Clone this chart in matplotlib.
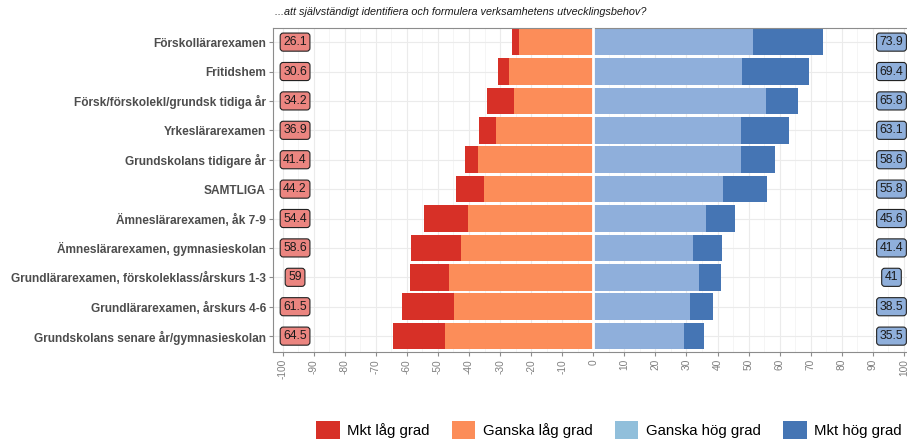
import matplotlib
matplotlib.use('Agg')
import matplotlib.pyplot as plt
from matplotlib.patches import Patch

plt.rcParams['font.family'] = ['Liberation Sans', 'DejaVu Sans']

kategorier = ['Förskollärarexamen', 'Fritidshem', 'Försk/förskolekl/grundsk tidiga år',
              'Yrkeslärarexamen', 'Grundskolans tidigare år', 'SAMTLIGA',
              'Ämneslärarexamen, åk 7-9', 'Ämneslärarexamen, gymnasieskolan',
              'Grundlärarexamen, förskoleklass/årskurs 1-3', 'Grundlärarexamen, årskurs 4-6',
              'Grundskolans senare år/gymnasieskolan']
mkt_lag = [2.3, 3.4, 8.6, 5.6, 4.2, 9.1, 14.2, 16.1, 12.4, 16.7, 16.7]
ganska_lag = [23.8, 27.2, 25.6, 31.3, 37.2, 35.1, 40.2, 42.5, 46.6, 44.8, 47.8]
ganska_hog = [51.5, 48.0, 55.6, 47.5, 47.5, 41.7, 36.3, 32.0, 34.0, 31.2, 29.3]
mkt_hog = [22.4, 21.4, 10.2, 15.6, 11.1, 14.1, 9.3, 9.4, 7.0, 7.3, 6.2]
serier = ['Mkt låg grad', 'Ganska låg grad', 'Ganska hög grad', 'Mkt hög grad']
titel = '...att självständigt identifiera och formulera verksamhetens utvecklingsbehov?'

farger = ['#D73027', '#FC8D59', '#8FAFDB', '#4575B4']
legendfarger = ['#D73027', '#FC8D59', '#91BFDB', '#4575B4']

fig = plt.figure(figsize=(9.07, 4.46), dpi=100)
ax = fig.add_axes([273/907, 1-352/446, (912-273)/907, 324/446])

y = list(range(len(kategorier)))
lag_tot = [a + b for a, b in zip(mkt_lag, ganska_lag)]
hog_tot = [a + b for a, b in zip(ganska_hog, mkt_hog)]

ax.barh(y, mkt_lag, left=[-t for t in lag_tot], height=0.9, color=farger[0], zorder=2)
ax.barh(y, ganska_lag, left=[-g for g in ganska_lag], height=0.9, color=farger[1], zorder=2)
ax.barh(y, ganska_hog, left=0, height=0.9, color=farger[2], zorder=2)
ax.barh(y, mkt_hog, left=ganska_hog, height=0.9, color=farger[3], zorder=2)
ax.axvline(0, color='white', lw=2, zorder=3)

for i in y:
    ax.text(-96, i, '{:g}'.format(round(lag_tot[i], 1)), ha='center', va='center', fontsize=8.8,
            color='#1a1a1a', zorder=4,
            bbox=dict(boxstyle='round,pad=0.25,rounding_size=0.25', fc='#EB8580', ec='#222222', lw=0.8))
    ax.text(96, i, '{:g}'.format(round(hog_tot[i], 1)), ha='center', va='center', fontsize=8.8,
            color='#1a1a1a', zorder=4,
            bbox=dict(boxstyle='round,pad=0.25,rounding_size=0.25', fc='#8FAFDB', ec='#222222', lw=0.8))

ax.set_xlim(-103.1, 102.6)
ax.set_ylim(len(kategorier) - 1 + 0.54, -0.48)
ax.set_xticks(range(-100, 101, 10))
ax.set_xticks(range(-95, 101, 10), minor=True)
ax.set_xticklabels([str(v) for v in range(-100, 101, 10)], rotation=90, fontsize=7.3, color='#7F7F7F')
ax.set_yticks(y)
ax.set_yticklabels(kategorier, fontsize=8.6, fontweight='bold', color='#4D4D4D')
ax.tick_params(axis='both', which='major', length=3, color='#8c8c8c', pad=2)
ax.tick_params(axis='x', which='minor', length=0)
ax.grid(which='major', color='#EBEBEB', lw=0.8, zorder=0)
ax.grid(which='minor', axis='x', color='#F2F2F2', lw=0.5, zorder=0)
ax.set_axisbelow(True)
for s in ax.spines.values():
    s.set_color('#8c8c8c')
    s.set_linewidth(0.8)

fig.text(275/907, 1-12/446, titel, style='italic', fontsize=7.8, va='center', ha='left', color='#1a1a1a')

handtag = [Patch(facecolor=c, edgecolor='none') for c in legendfarger]
fig.legend(handtag, serier, ncol=4, loc='center', bbox_to_anchor=(609/907, 1-430/446), frameon=False,
           fontsize=10.8, handlelength=1.55, handleheight=1.55, columnspacing=1.5, handletextpad=0.5)

plt.savefig('out.png', dpi=100)
